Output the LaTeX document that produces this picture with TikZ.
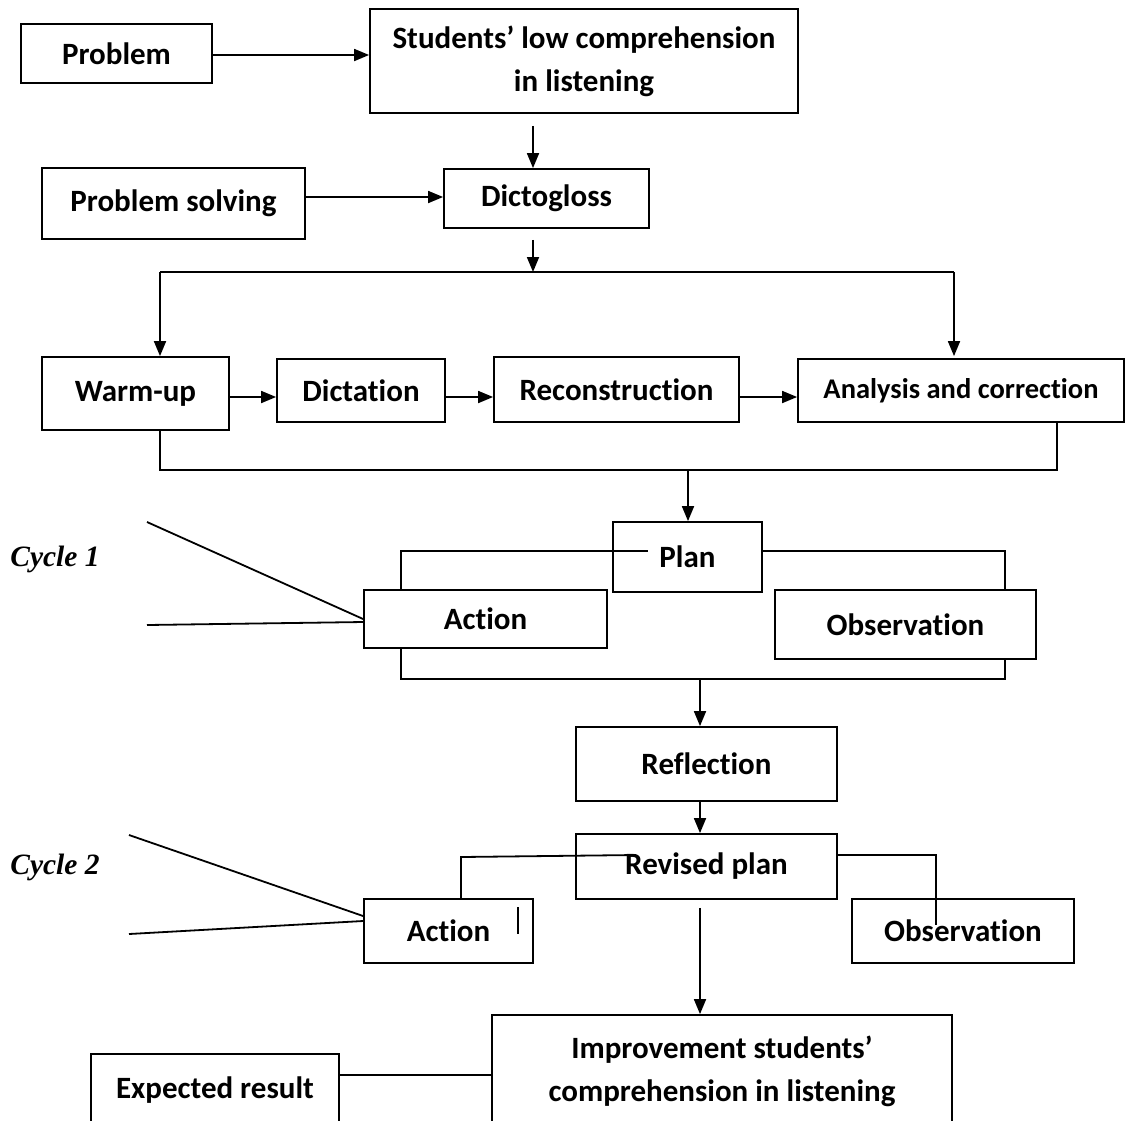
\documentclass[tikz,border=0pt]{standalone}
\usepackage{fontspec}
\setmainfont{Carlito}[Ligatures=NoCommon]
\newfontfamily\cyclefont{Liberation Serif}
\usetikzlibrary{arrows.meta}
\newcommand\nodeprob{Problem}
\newcommand\nodestud{Students’ low comprehension\\in listening}
\newcommand\nodesolv{Problem solving}
\newcommand\nodedict{Dictogloss}
\newcommand\nodewarm{Warm-up}
\newcommand\nodedicta{Dictation}
\newcommand\noderecon{Reconstruction}
\newcommand\nodeanal{Analysis and correction}
\newcommand\nodeplan{Plan}
\newcommand\nodeact{Action}
\newcommand\nodeobs{Observation}
\newcommand\noderefl{Reflection}
\newcommand\noderev{Revised plan}
\newcommand\nodeimpr{Improvement students’\\comprehension in listening}
\newcommand\nodeexpc{Expected result}
\tikzstyle{bx} = [rectangle, draw, inner sep=0pt, align=center, font=\fontsize{31}{43}\selectfont\bfseries]
\tikzstyle{cyc} = [inner sep=0pt, font=\fontsize{29.5}{35}\selectfont\cyclefont\bfseries\itshape]
\tikzset{>={Triangle[length=15pt,width=12pt]}, every picture/.style={line width=1.8pt}}
\begin{document}
\begin{tikzpicture}[x=1pt, y=-1pt]
\useasboundingbox (0,0) rectangle (1126,1120);
\node[bx, minimum width=191pt, minimum height=59pt] (prob) at (116.5, 53.5) {\nodeprob};
\node[bx, minimum width=428pt, minimum height=104pt] (stud) at (584, 61) {\nodestud};
\node[bx, minimum width=263pt, minimum height=71pt] (solv) at (173.5, 203.5) {\nodesolv};
\node[bx, minimum width=205pt, minimum height=59pt] (dict) at (546.5, 198.5) {\nodedict};
\node[bx, minimum width=187pt, minimum height=73pt] (warm) at (135.5, 393.5) {\nodewarm};
\node[bx, minimum width=168pt, minimum height=63pt] (dicta) at (361, 390.5) {\nodedicta};
\node[bx, minimum width=245pt, minimum height=65pt] (recon) at (616.5, 389.5) {\noderecon};
\node[bx, minimum width=326pt, minimum height=63pt, font=\fontsize{28.5}{34}\selectfont\bfseries] (anal) at (961, 390.5) {\nodeanal};
\node[bx, minimum width=149pt, minimum height=70pt] (plan) at (687.5, 557) {\nodeplan};
\node[bx, minimum width=243pt, minimum height=58pt] (act1) at (485.5, 619) {\nodeact};
\node[bx, minimum width=261pt, minimum height=69pt] (obs1) at (905.5, 624.5) {\nodeobs};
\node[bx, minimum width=261pt, minimum height=74pt] (refl) at (706.5, 764) {\noderefl};
\node[bx, minimum width=261pt, minimum height=65pt] (rev) at (706.5, 866.5) {\noderev};
\node[bx, minimum width=169pt, minimum height=64pt] (act2) at (448.5, 931) {\nodeact};
\node[bx, minimum width=222pt, minimum height=64pt] (obs2) at (963, 931) {\nodeobs};
\node[bx, minimum width=460pt, minimum height=112pt] (impr) at (722, 1071) {\nodeimpr};
\node[bx, minimum width=248pt, minimum height=72pt] (expc) at (215, 1090) {\nodeexpc};
\node[cyc] (cyc1) at (55, 559) {Cycle 1};
\node[cyc] (cyc2) at (55, 867) {Cycle 2};
\coordinate (split) at (533, 272);
\coordinate (brl) at (160, 272);
\coordinate (brr) at (954, 272);
\coordinate (row) at (0, 397);
\coordinate (mrg) at (688, 470);
\coordinate (ar) at (1057, 470);
\coordinate (pa) at (401, 551);
\coordinate (pb) at (648, 551);
\coordinate (po) at (1005, 551);
\coordinate (q) at (700, 679);
\coordinate (ra) at (461, 857);
\coordinate (rb) at (636, 855);
\coordinate (ro) at (936, 855);
\coordinate (rd) at (936, 925);
\coordinate (bar) at (518, 907);
\coordinate (er) at (0, 1075);
\coordinate (c1a) at (147, 522);
\coordinate (c1b) at (147, 625);
\coordinate (c2a) at (129, 835);
\coordinate (c2b) at (129, 934);
\draw [->] (prob.east |- 0,55) -- (stud.west |- 0,55);
\draw [->, shorten <=12pt] (stud.south -| split) -- (dict.north -| split);
\draw [->] (solv.east |- 0,197) -- (dict.west |- 0,197);
\draw [->, shorten <=11pt] (dict.south -| split) -- (split);
\draw (brl) -- (brr);
\draw [->] (brl) -- (brl |- warm.north);
\draw [->, shorten >=2pt] (brr) -- (brr |- anal.north);
\draw [->] (warm.east |- row) -- (dicta.west |- row);
\draw [->] (dicta.east |- row) -- (recon.west |- row);
\draw [->] (recon.east |- row) -- (anal.west |- row);
\draw (warm.south -| brl) |- (ar) -- (ar |- anal.south);
\draw [->] (mrg) -- (mrg |- plan.north);
\draw (act1.north -| pa) -- (pa) -- (pb);
\draw (plan.east |- po) -- (po) -- (po |- obs1.north);
\draw (act1.south -| pa) |- (po |- q) -- (po |- obs1.south);
\draw [->] (q) -- (q |- refl.north);
\draw [->] (refl.south -| q) -- (rev.north -| q);
\draw (act2.north -| ra) -- (ra) -- (rb);
\draw (rev.east |- ro) -- (ro) -- (rd);
\draw (bar) -- ++(0, 27);
\draw [->, shorten <=8pt] (rev.south -| q) -- (impr.north -| q);
\draw (expc.east |- er) -- (impr.west |- er);
\draw (c1a) -- (act1.west);
\draw (c1b) -- ([yshift=-3pt]act1.west);
\draw (c2a) -- ([yshift=15pt]act2.west);
\draw (c2b) -- ([yshift=10pt]act2.west);
\end{tikzpicture}
\end{document}
